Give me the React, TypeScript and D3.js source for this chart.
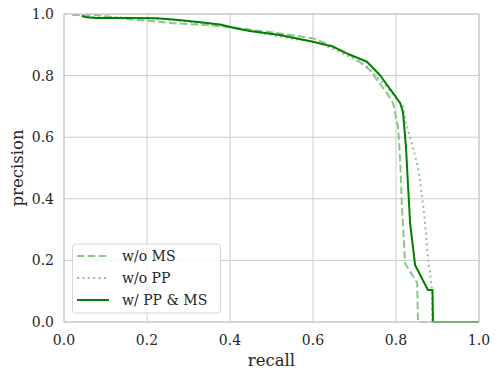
import React from 'react'
import * as d3 from 'd3'

const woMsRecall = [0.02, 0.08, 0.15, 0.207, 0.263, 0.344, 0.392, 0.424, 0.52, 0.6, 0.641, 0.697, 0.737, 0.778, 0.793, 0.805, 0.81, 0.814, 0.822, 0.842, 0.851, 0.853, 1.0]
const woMsPrecision = [0.997, 0.997, 0.984, 0.977, 0.97, 0.964, 0.958, 0.954, 0.937, 0.921, 0.899, 0.861, 0.818, 0.743, 0.711, 0.633, 0.526, 0.386, 0.19, 0.146, 0.127, 0.0, 0.0]

const woPpRecall = [0.03, 0.07, 0.15, 0.224, 0.27, 0.33, 0.38, 0.45, 0.52, 0.617, 0.68, 0.73, 0.777, 0.817, 0.822, 0.838, 0.853, 0.864, 0.87, 0.877, 0.886, 0.888, 1.0]
const woPpPrecision = [0.997, 0.99, 0.988, 0.985, 0.98, 0.97, 0.963, 0.945, 0.927, 0.905, 0.867, 0.829, 0.764, 0.7, 0.656, 0.58, 0.503, 0.396, 0.321, 0.211, 0.114, 0.0, 0.0]

const fullRecall = [0.043, 0.05, 0.075, 0.15, 0.224, 0.27, 0.328, 0.376, 0.416, 0.448, 0.52, 0.6, 0.648, 0.68, 0.73, 0.761, 0.793, 0.81, 0.817, 0.824, 0.83, 0.834, 0.846, 0.862, 0.877, 0.888, 0.889, 1.0]
const fullPrecision = [0.995, 0.99, 0.987, 0.987, 0.986, 0.981, 0.973, 0.966, 0.953, 0.945, 0.932, 0.91, 0.894, 0.873, 0.845, 0.802, 0.743, 0.711, 0.68, 0.568, 0.419, 0.321, 0.185, 0.143, 0.104, 0.104, 0.0, 0.0]

const tickValues = [0, 0.2, 0.4, 0.6, 0.8, 1.0]
const seriesLabels = ['w/o MS', 'w/o PP', 'w/ PP & MS']

const font = "'DejaVu Serif', serif"
const grid = '#cccccc'

const App = () => {
  const x = d3.scaleLinear().domain([0, 1]).range([64, 479])
  const y = d3.scaleLinear().domain([0, 1]).range([322, 14])

  const line = d3.line<[number, number]>()
    .x((d) => x(d[0]))
    .y((d) => y(d[1]))

  const series = [
    {label: seriesLabels[0], pts: woMsRecall.map((r, i) => [r, woMsPrecision[i]] as [number, number]), color: '#8cc68c', dash: '7.5,3.3'},
    {label: seriesLabels[1], pts: woPpRecall.map((r, i) => [r, woPpPrecision[i]] as [number, number]), color: '#8cc68c', dash: '2,3.4'},
    {label: seriesLabels[2], pts: fullRecall.map((r, i) => [r, fullPrecision[i]] as [number, number]), color: '#008000', dash: undefined},
  ]

  return (
    <svg width={500} height={377} style={{position: 'absolute', left: 0, top: 0, background: '#fff'}}>
      <defs>
        <clipPath id="plot">
          <rect x={64} y={13} width={416} height={310}/>
        </clipPath>
      </defs>
      {tickValues.map((t) => (
        <g key={'g' + t}>
          <line x1={x(t)} x2={x(t)} y1={y(0)} y2={y(1)} stroke={grid} strokeWidth={1}/>
          <line x1={x(0)} x2={x(1)} y1={y(t)} y2={y(t)} stroke={grid} strokeWidth={1}/>
        </g>
      ))}
      <g clipPath="url(#plot)">
        {series.map((s, i) => (
          <path key={i} d={line(s.pts) || ''} fill="none" stroke={s.color}
            strokeWidth={2} strokeDasharray={s.dash} strokeLinejoin="round"/>
        ))}
      </g>
      <rect x={x(0)} y={y(1)} width={x(1) - x(0)} height={y(0) - y(1)} fill="none" stroke={grid} strokeWidth={1.2}/>
      {tickValues.map((t) => (
        <g key={'t' + t} fontFamily={font} fontSize={14} fill="#262626">
          <text x={x(t)} y={345} textAnchor="middle">{t.toFixed(1)}</text>
          <text x={54} y={y(t) + 5} textAnchor="end">{t.toFixed(1)}</text>
        </g>
      ))}
      <text x={(x(0) + x(1)) / 2} y={366} textAnchor="middle" fontFamily={font} fontSize={16.5} fill="#262626">recall</text>
      <text transform={`translate(23, ${(y(0) + y(1)) / 2}) rotate(-90)`} textAnchor="middle" fontFamily={font} fontSize={16.5} fill="#262626">precision</text>
      <g>
        <rect x={72.5} y={244} width={148} height={69} rx={3} fill="#fff" fillOpacity={0.8} stroke="#d6d6d6"/>
        {series.map((s, i) => (
          <g key={'l' + i}>
            <line x1={77} x2={109} y1={256 + i * 22} y2={256 + i * 22} stroke={s.color} strokeWidth={2} strokeDasharray={s.dash}/>
            <text x={122} y={261 + i * 22} fontFamily={font} fontSize={14} fill="#262626">{s.label}</text>
          </g>
        ))}
      </g>
    </svg>
  )
}

export default App
